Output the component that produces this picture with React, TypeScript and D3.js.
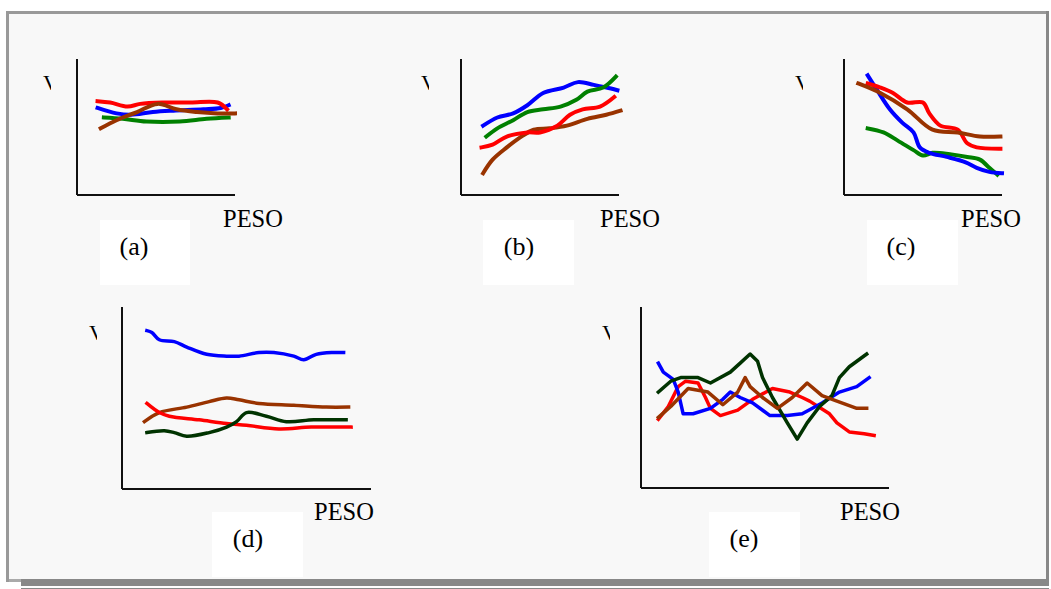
import React from "react";
import * as d3 from "d3";

type Pt = [number, number];

// Panel (a)
const aRed: Pt[] = [[13,69],[21,68],[32,65],[40,67],[54,68],[72,68],[89,68],[95,63]];
const aBlue: Pt[] = [[13,64],[25,60],[34,59],[48,61],[61,62],[80,63],[91,64],[96,66]];
const aGreen: Pt[] = [[17,57],[29,56],[44,54],[65,54],[82,56],[96,57]];
const aBrown: Pt[] = [[15,49],[25,55],[38,61],[51,67],[63,63],[76,61],[89,60],[100,60]];

// Panel (b)
const bBlue: Pt[] = [[14,51],[23,57],[33,60],[42,66],[52,75],[65,79],[74,83],[84,81],[92,79],[99,77]];
const bGreen: Pt[] = [[16,43],[23,49],[33,55],[42,61],[52,63],[63,65],[73,70],[80,76],[90,79],[98,87]];
const bRed: Pt[] = [[13,35],[20,37],[29,43],[42,46],[50,46],[61,51],[69,59],[77,63],[88,65],[97,72]];
const bBrown: Pt[] = [[14,16],[20,26],[29,35],[37,42],[46,48],[56,49],[67,51],[80,56],[92,59],[101,62]];

// Panel (c)
const cBlue: Pt[] = [[15,88],[21,77],[29,63],[37,53],[44,46],[48,35],[54,31],[65,28],[77,24],[84,20],[92,17],[100,16]];
const cRed: Pt[] = [[15,82],[23,79],[31,75],[40,68],[50,68],[54,60],[61,51],[72,48],[78,38],[84,35],[99,34]];
const cBrown: Pt[] = [[9,82],[23,75],[40,63],[56,48],[72,46],[86,43],[99,43]];
const cGreen: Pt[] = [[15,49],[25,46],[34,40],[44,33],[50,29],[56,31],[67,30],[78,28],[86,26],[92,20],[97,15]];

// Panel (d)
const dBlue: Pt[] = [[10,87],[12,86],[15,82],[21,81],[26,78],[34,74],[42,73],[47,73],[55,75],[61,75],[69,73],[73,71],[78,74],[85,75],[89,75]];
const dBrown: Pt[] = [[9,37],[15,42],[26,45],[35,48],[42,50],[47,49],[55,47],[69,46],[82,45],[91,45]];
const dRed: Pt[] = [[10,47],[15,42],[19,40],[31,38],[42,36],[50,35],[63,33],[76,34],[92,34]];
const dDarkGreen: Pt[] = [[10,31],[17,32],[21,31],[26,29],[35,31],[42,34],[46,37],[50,42],[58,40],[66,37],[77,38],[90,38]];

// Panel (e)
const eBlue: Pt[] = [[7,69],[9,64],[13,60],[15,53],[17,41],[21,41],[28,44],[33,49],[36,53],[40,50],[45,47],[52,40],[59,40],[65,41],[73,47],[80,53],[87,56],[92,61]];
const eRed: Pt[] = [[7,38],[11,45],[15,56],[18,59],[23,58],[26,50],[28,44],[32,40],[39,43],[45,49],[53,55],[60,53],[65,50],[68,48],[76,41],[79,36],[84,31],[90,30],[94,29]];
const eBrown: Pt[] = [[7,39],[12,45],[19,55],[27,53],[33,46],[39,53],[42,61],[44,56],[49,50],[55,44],[61,50],[67,58],[73,51],[79,48],[87,44],[91,44]];
const eDarkGreen: Pt[] = [[7,53],[12,59],[16,61],[23,61],[28,58],[36,64],[40,69],[44,74],[47,70],[49,61],[53,50],[59,36],[63,27],[67,36],[72,45],[77,51],[80,61],[84,67],[88,71],[91,74]];

const axisTitleX = "PESO";
const axisTitleY = "V";
const panelLabels = ["(a)", "(b)", "(c)", "(d)", "(e)"];

const RED = "#ff0000";
const BLUE = "#0000ff";
const GREEN = "#008000";
const BROWN = "#993300";
const DKGREEN = "#003300";

type Series = { data: Pt[]; color: string };
type PanelDef = {
  label: string;
  x0: number; x1: number; yTop: number; yBot: number;
  series: Series[];
  curve: any;
  sw: number;
  pesoX: number; pesoY: number;
  vX: number; vY: number;
  box: [number, number, number, number];
  labelX: number; labelY: number;
};

const smooth = d3.curveCatmullRom.alpha(0.5);

const panels: PanelDef[] = [
  {
    label: panelLabels[0], x0: 77, x1: 235, yTop: 59, yBot: 195,
    series: [
      { data: aGreen, color: GREEN },
      { data: aBlue, color: BLUE },
      { data: aRed, color: RED },
      { data: aBrown, color: BROWN },
    ],
    curve: smooth, sw: 4, pesoX: 223, pesoY: 227, vX: 43, vY: 90,
    box: [100, 220, 90, 65], labelX: 134, labelY: 255,
  },
  {
    label: panelLabels[1], x0: 461, x1: 619, yTop: 59, yBot: 195,
    series: [
      { data: bBrown, color: BROWN },
      { data: bRed, color: RED },
      { data: bBlue, color: BLUE },
      { data: bGreen, color: GREEN },
    ],
    curve: smooth, sw: 4, pesoX: 600, pesoY: 227, vX: 421, vY: 90,
    box: [483, 220, 91, 65], labelX: 519, labelY: 255,
  },
  {
    label: panelLabels[2], x0: 844, x1: 1002, yTop: 59, yBot: 195,
    series: [
      { data: cGreen, color: GREEN },
      { data: cBlue, color: BLUE },
      { data: cRed, color: RED },
      { data: cBrown, color: BROWN },
    ],
    curve: smooth, sw: 4, pesoX: 961, pesoY: 227, vX: 795, vY: 90,
    box: [867, 220, 91, 65], labelX: 901, labelY: 255,
  },
  {
    label: panelLabels[3], x0: 122, x1: 371, yTop: 307, yBot: 489,
    series: [
      { data: dBlue, color: BLUE },
      { data: dBrown, color: BROWN },
      { data: dRed, color: RED },
      { data: dDarkGreen, color: DKGREEN },
    ],
    curve: smooth, sw: 3.5, pesoX: 314, pesoY: 520, vX: 89, vY: 340,
    box: [212, 512, 91, 65], labelX: 248, labelY: 547,
  },
  {
    label: panelLabels[4], x0: 641, x1: 889, yTop: 307, yBot: 488,
    series: [
      { data: eRed, color: RED },
      { data: eBlue, color: BLUE },
      { data: eDarkGreen, color: DKGREEN },
      { data: eBrown, color: BROWN },
    ],
    curve: d3.curveLinear, sw: 3.5, pesoX: 840, pesoY: 520, vX: 602, vY: 340,
    box: [709, 512, 91, 65], labelX: 744, labelY: 547,
  },
];

const FONT = "'Liberation Serif', 'Times New Roman', serif";

function Panel({ p, idx }: { p: PanelDef; idx: number }) {
  const x = d3.scaleLinear().domain([0, 100]).range([p.x0, p.x1]);
  const y = d3.scaleLinear().domain([0, 100]).range([p.yBot, p.yTop]);
  const line = d3.line<Pt>().x((d) => x(d[0])).y((d) => y(d[1])).curve(p.curve);
  const clipId = `vclip${idx}`;
  return (
    <g>
      <defs>
        <clipPath id={clipId}>
          <rect x={p.vX - 1} y={p.vY - 20} width={9} height={24} />
        </clipPath>
      </defs>
      <rect x={p.box[0]} y={p.box[1]} width={p.box[2]} height={p.box[3]} fill="#ffffff" />
      {p.series.map((s, i) => (
        <path key={i} d={line(s.data) || ""} fill="none" stroke={s.color}
          strokeWidth={p.sw} strokeLinejoin="round" strokeLinecap="square" />
      ))}
      <line x1={p.x0} y1={p.yTop} x2={p.x0} y2={p.yBot} stroke="#111" strokeWidth={2} />
      <line x1={p.x0} y1={p.yBot} x2={p.x1} y2={p.yBot} stroke="#111" strokeWidth={2} />
      <text x={p.pesoX} y={p.pesoY} fontFamily={FONT} fontSize={24.5} fill="#000">{axisTitleX}</text>
      <text x={p.vX} y={p.vY} fontFamily={FONT} fontSize={22} fill="#000" clipPath={`url(#${clipId})`}>{axisTitleY}</text>
      <text x={p.labelX} y={p.labelY} fontFamily={FONT} fontSize={26} fill="#000" textAnchor="middle">{p.label}</text>
    </g>
  );
}

export default function App() {
  return (
    <svg width={1051} height={589} style={{ position: "absolute", left: 0, top: 0, display: "block" }}>
      <rect x={0} y={0} width={1051} height={589} fill="#ffffff" />
      <rect x={9} y={14} width={1037} height={565} fill="#f8f8f8" />
      <rect x={6} y={11} width={3} height={571} fill="#999999" />
      <rect x={6} y={11} width={1043} height={3} fill="#999999" />
      <rect x={1046} y={11} width={3} height={575} fill="#888888" />
      <rect x={9} y={579} width={12} height={3} fill="#aaaaaa" />
      <rect x={21} y={579} width={1028} height={7} fill="#888888" />
      <rect x={21} y={588} width={1028} height={1} fill="#888888" />
      {panels.map((p, i) => <Panel key={i} p={p} idx={i} />)}
    </svg>
  );
}
